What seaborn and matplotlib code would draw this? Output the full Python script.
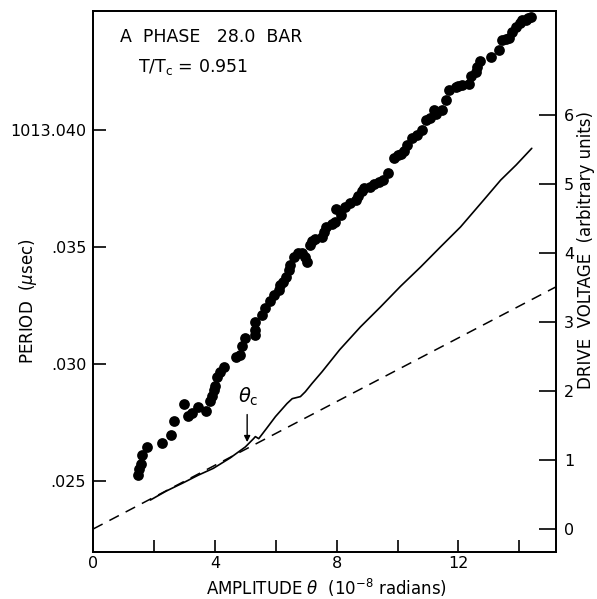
import matplotlib
matplotlib.use("Agg")
import matplotlib.pyplot as plt
import seaborn as sns
import pandas as pd

# period vs amplitude (dots, left axis)
amp_dots = [1.47, 1.51, 1.56, 1.60, 1.77, 2.26, 2.56, 2.67, 3.00, 3.13, 3.25, 3.43,
            3.72, 3.85, 3.92, 3.96, 3.99, 4.07, 4.18, 4.29, 4.70, 4.84, 4.89, 5.00,
            5.33, 5.31, 5.33, 5.55, 5.66, 5.80, 5.93, 6.10, 6.15, 6.25, 6.35, 6.42,
            6.48, 6.59, 6.72, 6.87, 6.95, 7.03, 7.14, 7.19, 7.30, 7.52, 7.58, 7.66,
            7.85, 7.96, 8.13, 7.99, 8.29, 8.45, 8.62, 8.70, 8.82, 8.89, 9.11, 9.22,
            9.38, 9.53, 9.69, 9.88, 10.01, 10.10, 10.20, 10.32, 10.48, 10.65, 10.81,
            10.92, 11.06, 11.19, 11.25, 11.47, 11.58, 11.69, 11.91, 12.00, 12.13,
            12.35, 12.40, 12.57, 12.60, 12.71, 13.06, 13.33, 13.44, 13.55, 13.66,
            13.77, 13.88, 14.02, 14.10, 14.21, 14.30, 14.38]
period = [0.02526, 0.02550, 0.02573, 0.02611, 0.02647, 0.02661, 0.02697, 0.02756,
          0.02828, 0.02778, 0.02792, 0.02818, 0.02799, 0.02842, 0.02863, 0.02889,
          0.02906, 0.02946, 0.02967, 0.02986, 0.03031, 0.03041, 0.03077, 0.03112,
          0.03124, 0.03145, 0.03181, 0.03209, 0.03238, 0.03269, 0.03295, 0.03316,
          0.03338, 0.03350, 0.03373, 0.03402, 0.03423, 0.03459, 0.03473, 0.03476,
          0.03459, 0.03437, 0.03509, 0.03527, 0.03535, 0.03544, 0.03565, 0.03587,
          0.03598, 0.03608, 0.03637, 0.03665, 0.03672, 0.03687, 0.03701, 0.03720,
          0.03741, 0.03753, 0.03755, 0.03772, 0.03779, 0.03789, 0.03818, 0.03879,
          0.03893, 0.03896, 0.03910, 0.03936, 0.03965, 0.03979, 0.04000, 0.04043,
          0.04050, 0.04088, 0.04071, 0.04088, 0.04128, 0.04171, 0.04185, 0.04189,
          0.04192, 0.04197, 0.04231, 0.04249, 0.04271, 0.04295, 0.04313, 0.04342,
          0.04385, 0.04390, 0.04392, 0.04420, 0.04441, 0.04456, 0.04470, 0.04470,
          0.04478, 0.04484]

# drive voltage (solid, right axis)
amp_line = [1.88, 2.40, 2.96, 3.45, 3.95, 4.50, 5.00, 5.27, 5.33, 5.44, 5.70, 5.99,
            6.37, 6.54, 6.81, 6.97, 7.19, 7.52, 8.10, 8.78, 9.44, 10.10, 10.76,
            11.41, 12.07, 12.83, 13.39, 13.90, 14.41]
voltage = [0.42, 0.55, 0.67, 0.78, 0.88, 1.03, 1.19, 1.31, 1.34, 1.31, 1.46, 1.63,
           1.82, 1.89, 1.92, 1.99, 2.11, 2.28, 2.60, 2.93, 3.22, 3.52, 3.80,
           4.09, 4.38, 4.77, 5.06, 5.28, 5.52]

# linear extrapolation (dashed)
amp_fit = [0.0, 15.2]
volt_fit = [0.0, 3.51]

x_ticks = [0, 2, 4, 6, 8, 10, 12, 14]
x_labels = ["0", "", "4", "", "8", "", "12", ""]
left_ticks = [0.025, 0.030, 0.035, 0.040]
left_labels = [".025", ".030", ".035", "1013.040"]
right_ticks = [0, 1, 2, 3, 4, 5, 6]

sns.set_style("ticks")
plt.rcParams['font.family'] = ['DejaVu Sans']
plt.rcParams.update({"text.color": "black", "axes.labelcolor": "black",
                     "xtick.color": "black", "ytick.color": "black"})

fig = plt.figure(figsize=(5.97, 5.99), dpi=100)
ax = fig.add_axes([0.156, 0.0785, 0.775, 0.903])
ax2 = ax.twinx()

dots = pd.DataFrame({"amp": amp_dots, "period": period})
sns.scatterplot(data=dots, x="amp", y="period", ax=ax, color="black", s=60,
                edgecolor="black", linewidth=0, zorder=3)

line = pd.DataFrame({"amp": amp_line, "volt": voltage})
sns.lineplot(data=line, x="amp", y="volt", ax=ax2, color="black", lw=1.2,
             sort=False, estimator=None)
fit = pd.DataFrame({"amp": amp_fit, "volt": volt_fit})
sns.lineplot(data=fit, x="amp", y="volt", ax=ax2, color="black", lw=1.1,
             dashes=False, estimator=None)
ax2.lines[-1].set_dashes([7, 5])

ax.set_xlim(0, 15.2)
ax.set_ylim(0.02197, 0.04509)
ax2.set_ylim(-0.333, 7.51)

ax.set_xticks(x_ticks)
ax.set_xticklabels(x_labels)
ax.set_yticks(left_ticks)
ax.set_yticklabels(left_labels)
ax2.set_yticks(right_ticks)
ax2.set_yticklabels([str(t) for t in right_ticks])

ax.tick_params(axis="both", direction="in", length=9, width=1.2,
               labelsize=11.5, pad=5)
ax.tick_params(axis="x", pad=3)
ax2.tick_params(axis="y", direction="in", length=12, width=1.2,
                labelsize=11.5, pad=6)

for a in (ax, ax2):
    for s in a.spines.values():
        s.set_linewidth(1.3)
        s.set_color("black")
        s.set_visible(True)

ax.set_xlabel(r"AMPLITUDE $\theta$  (10$^{-8}$ radians)", fontsize=12)
ax.xaxis.set_label_coords(0.505, -0.046)
ax.set_ylabel(r"PERIOD  ($\mu$sec)", fontsize=12)
ax.yaxis.set_label_coords(-0.116, 0.464)
ax2.set_ylabel("DRIVE  VOLTAGE  (arbitrary units)", fontsize=12, rotation=90)
ax2.yaxis.set_label_coords(1.045, 0.558)

ax.text(0.058, 0.969, "A  PHASE   28.0  BAR", transform=ax.transAxes,
        fontsize=12.5, va="top", ha="left")
ax.text(0.098, 0.915, r"T/T$_\mathrm{c}$ = 0.951", transform=ax.transAxes,
        fontsize=12.5, va="top", ha="left")

ax2.text(5.1, 1.76, r"$\theta_\mathrm{c}$", fontsize=14, ha="center", va="bottom")
ax2.annotate("", xy=(5.06, 1.22), xytext=(5.06, 1.70),
             arrowprops=dict(arrowstyle="-|>", color="black", lw=1.0,
                             mutation_scale=9))

fig.savefig("out.png", dpi=100)
